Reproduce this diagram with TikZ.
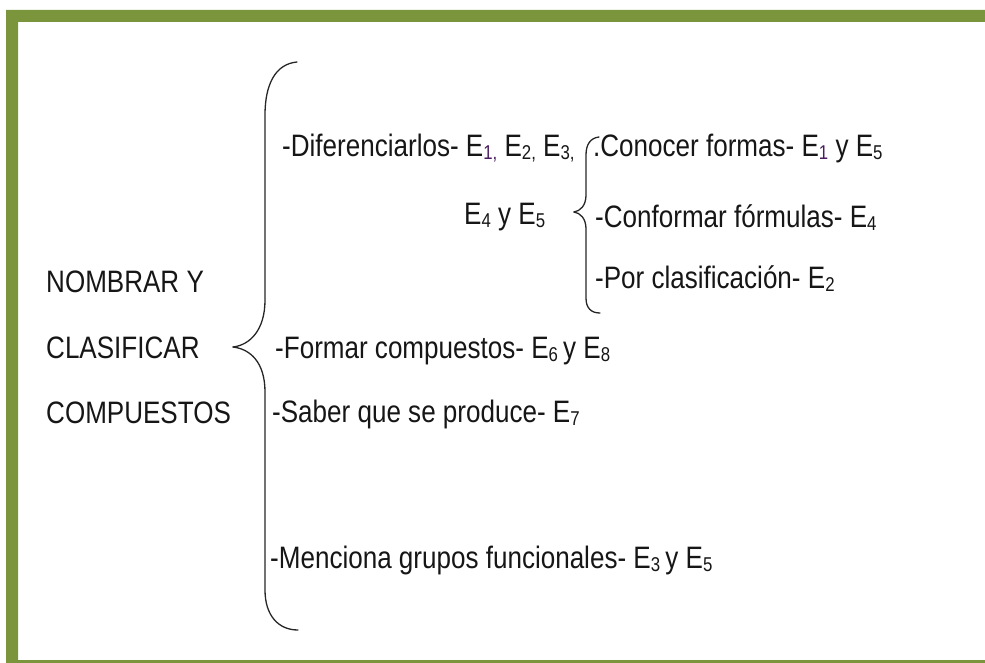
\documentclass[tikz,border=0pt]{standalone}
\usepackage{fontspec}
\setmainfont{Liberation Sans}[FakeStretch=0.84]
\definecolor{marco}{RGB}{122,149,60}
\definecolor{tinta}{RGB}{22,22,22}
\definecolor{morado}{RGB}{75,28,95}
\newcommand{\Esub}[1]{E\raisebox{-3pt}{\fontsize{20}{20}\selectfont #1}}
\tikzset{txt/.style={anchor=base west,inner sep=0pt,text=tinta,font=\fontsize{31}{37}\selectfont},
	llave/.style={line width=1.3pt,black!85}}
\begin{document}
\begin{tikzpicture}[x=1pt,y=-1pt,line join=round,line cap=round]
		\useasboundingbox (0,0) rectangle (985,663);
		% marco verde
		\fill[marco] (6,10) rectangle (985,22) (6,10) rectangle (18,663) (18,660) rectangle (985,663);
		% llaves
		\draw[llave] (297,62).. controls (275,64) and (265,85) .. (265,115)--(265,300).. controls (265,330) and (250,345) .. (233,347);
		\draw[llave] (233,347).. controls (250,349) and (265,362) .. (265,392)--(265,590).. controls (265,615) and (278,630) .. (298,630);
		\draw[llave] (599,137).. controls (590,138) and (586,145) .. (586,155)--(586,195).. controls (586,206) and (580,211) .. (574,212);
		\draw[llave] (574,212).. controls (580,213) and (586,218) .. (586,229)--(586,298).. controls (586,308) and (591,313) .. (600,313);
		% textos
		\node[txt] (nombrar) at (46,292) {NOMBRAR Y};
		\node[txt] (clasificar) at (46,358) {CLASIFICAR};
		\node[txt] (compuestos) at (46,423) {COMPUESTOS};
		\node[txt] (dif) at (282,157) {-Diferenciarlos- E\raisebox{-3pt}{\fontsize{20}{20}\selectfont\color{morado}1,} \Esub{2,} \Esub{3,}};
		\node[txt] (dif2) at (464,225) {\Esub{4} y \Esub{5}};
		\node[txt] (conocer) at (593,157) {.Conocer formas- E\raisebox{-3pt}{\fontsize{20}{20}\selectfont\color{morado}1} y \Esub{5}};
		\node[txt] (conformar) at (595,227) {-Conformar fórmulas- \Esub{4}};
		\node[txt] (porclas) at (595,288) {-Por clasificación- \Esub{2}};
		\node[txt] (formar) at (275,358) {-Formar compuestos- \Esub{6}\,y \Esub{8}};
		\node[txt] (saber) at (272,422) {-Saber que se produce- \Esub{7}};
		\node[txt] (menciona) at (270,568) {-Menciona grupos funcionales- \Esub{3}\,y \Esub{5}};
	\end{tikzpicture}
\end{document}
